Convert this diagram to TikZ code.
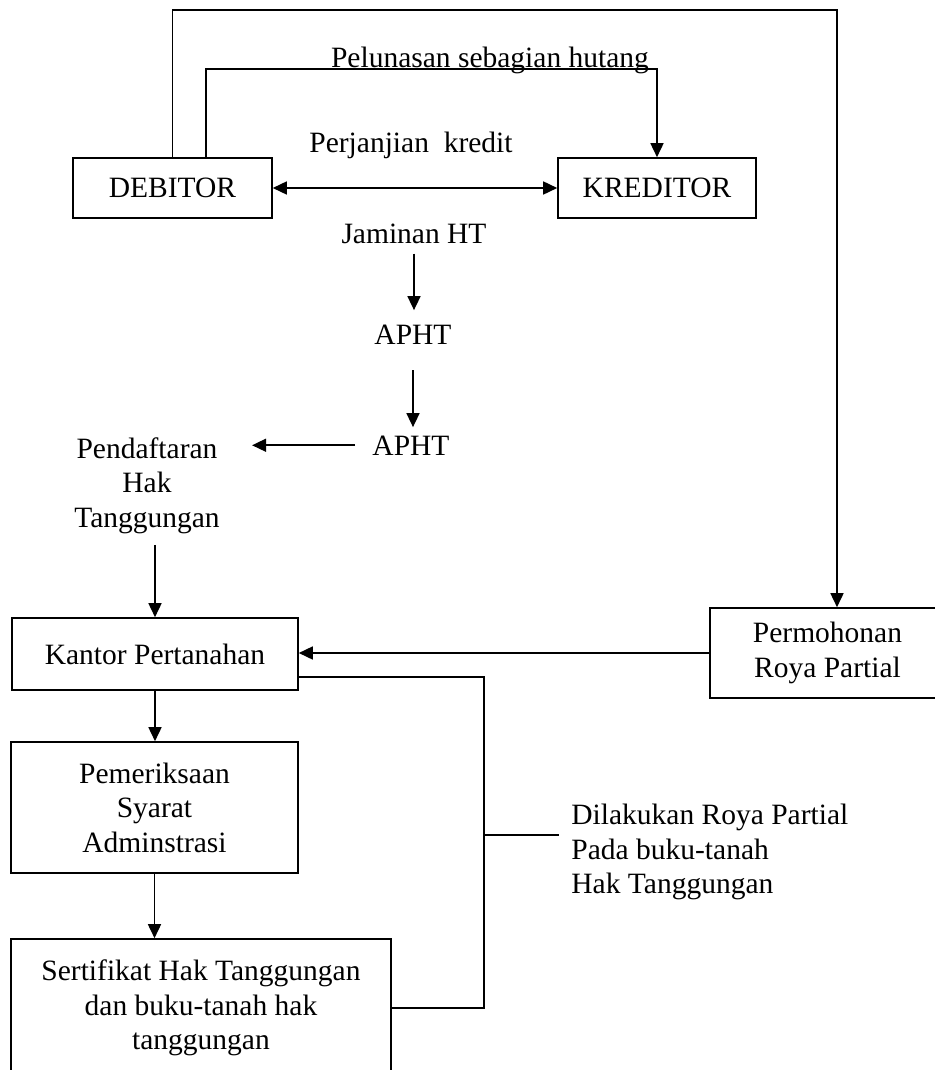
\documentclass[tikz,border=0pt]{standalone}
\usepackage{fontspec}
\setmainfont{Liberation Serif}
\usetikzlibrary{arrows.meta}

\tikzset{
  box/.style={draw, line width=0.8pt, inner sep=0pt, align=center},
  lbl/.style={inner sep=0pt, align=center},
  line/.style={line width=0.8pt},
  arr/.style={line width=0.8pt, -{Triangle[length=7pt,width=6.5pt]}},
  dblarr/.style={line width=0.8pt, {Triangle[length=7pt,width=6.5pt]}-{Triangle[length=7pt,width=6.5pt]}},
}

\begin{document}
\begin{tikzpicture}[x=0.5pt, y=-0.5pt, font=\fontsize{14.75}{17.25}\selectfont]
        \useasboundingbox (0,0) rectangle (934,1070);
        \node[box, minimum width=99.5pt, minimum height=30pt] (debitor) at (172.5,188) {DEBITOR};
        \node[box, minimum width=99pt, minimum height=30pt] (kreditor) at (657,188) {KREDITOR};
        \node[box, minimum width=143pt, minimum height=36pt] (kantor) at (155,654) {Kantor Pertanahan};
        \node[box, minimum width=143.5pt, minimum height=65.5pt] (periksa) at (154.5,807.5) {Pemeriksaan\\Syarat\\Adminstrasi};
        \node[box, minimum width=190pt, minimum height=69pt] (sertifikat) at (201,1008) {Sertifikat Hak Tanggungan\\dan buku-tanah hak\\tanggungan};
        \node[box, minimum width=117.5pt, minimum height=45pt] (permohonan) at (827.5,653) {Permohonan\\Roya Partial};
        \node[lbl, anchor=base] (pelunasan) at (490,68) {Pelunasan sebagian hutang};
        \node[lbl, anchor=base] (perjanjian) at (411,152) {Perjanjian\ \ kredit};
        \node[lbl, anchor=base] (jaminan) at (414,243) {Jaminan HT};
        \node[lbl, anchor=base] (aphtA) at (413,344) {APHT};
        \node[lbl, anchor=base] (aphtB) at (411,455) {APHT};
        \node[lbl, anchor=north] (pendaftaran) at (147,437) {Pendaftaran\\Hak\\Tanggungan};
        \node[lbl, anchor=north west, align=left] (dilakukan) at (571,804) {Dilakukan Roya Partial\\Pada buku-tanah\\Hak Tanggungan};
        \coordinate (topR) at (837,10);
        \coordinate (midL) at (206,69);
        \coordinate (jn) at (484,677);
        \coordinate (br) at (484,835);
        \draw[arr] (debitor.north) |- (topR) -- (topR |- permohonan.north);
        \draw[arr] (midL |- debitor.north) -- (midL) -| (kreditor.north);
        \draw[dblarr] (debitor.east) -- (kreditor.west);
        \draw[arr, shorten <=5pt, shorten >=7pt] (jaminan.south) -- (jaminan.south |- aphtA.north);
        \draw[arr, shorten <=13pt, shorten >=4pt] (aphtA.south) -- (aphtA.south |- aphtB.north);
        \draw[arr, shorten <=8.5pt, shorten >=16pt] (aphtB.west) -- (aphtB.west -| pendaftaran.east);
        \draw[arr, shorten <=5.5pt] (kantor.north |- pendaftaran.south) -- (kantor.north);
        \draw[arr] (kantor.south) -- (kantor.south |- periksa.north);
        \draw[arr] (periksa.south) -- (periksa.south |- sertifikat.north);
        \draw[arr] (permohonan.west) -- (permohonan.west -| kantor.east);
        \draw[line] (kantor.east |- jn) -- (jn) |- (sertifikat.east);
        \draw[line, shorten >=6pt] (br) -- (br -| dilakukan.west);
    \end{tikzpicture}
\end{document}
